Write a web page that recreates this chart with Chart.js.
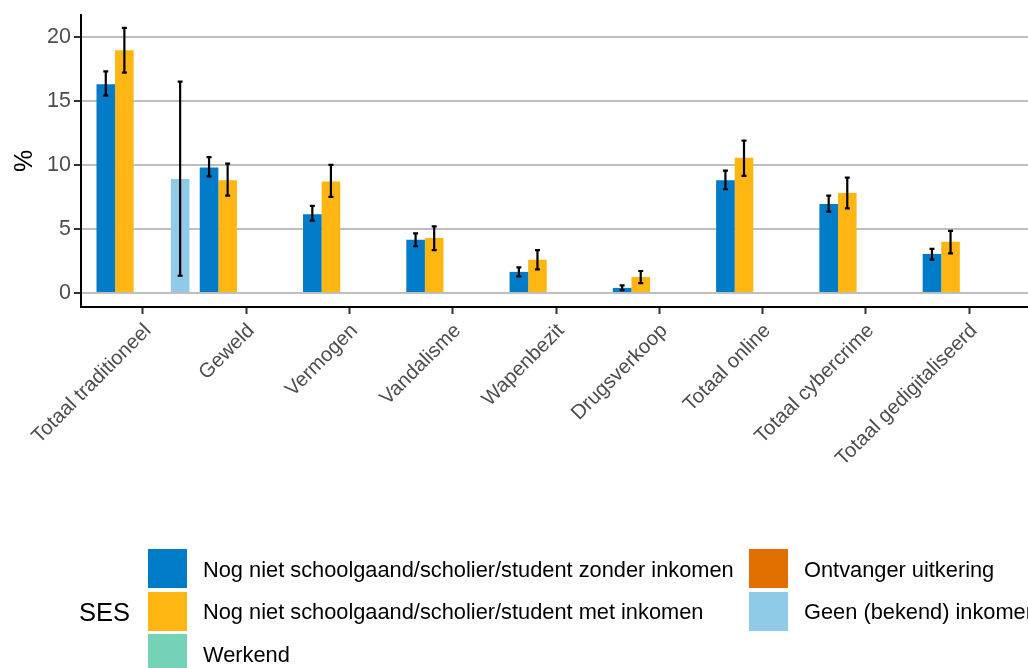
<!DOCTYPE html>
<html>
<head>
<meta charset="utf-8">
<script src="https://cdn.jsdelivr.net/npm/chart.js@4"></script>
<style>
  body { margin: 0; background: #fff; overflow: hidden; }
  #wrap { position: relative; width: 1028px; height: 668px; overflow: hidden; font-family: "Liberation Sans", Arial, sans-serif; }
  #myChart { position: absolute; left: 0; top: 0; }
  .key { position: absolute; width: 39px; height: 39px; }
  .lbl { position: absolute; font-size: 21.8px; color: #000; white-space: nowrap; line-height: 26px; }
  #sesTitle { position: absolute; left: 79px; top: 597px; font-size: 25.5px; color: #000; line-height: 30px; }
</style>
</head>
<body>
<div id="wrap">
  <canvas id="myChart" width="1028" height="668"></canvas>
  <div id="sesTitle">SES</div>
  <div id="legendBox"></div>
</div>
<script>
// categories on the x axis
const categories = [
  "Totaal traditioneel", "Geweld", "Vermogen", "Vandalisme", "Wapenbezit",
  "Drugsverkoop", "Totaal online", "Totaal cybercrime", "Totaal gedigitaliseerd"
];

const seriesNames = [
  "Nog niet schoolgaand/scholier/student zonder inkomen",
  "Nog niet schoolgaand/scholier/student met inkomen",
  "Werkend",
  "Ontvanger uitkering",
  "Geen (bekend) inkomen"
];
const seriesColors = ["#007bc7", "#ffb612", "#76d2b6", "#e17000", "#8fcae7"];

// percentages
const zonderInkomen = [16.3, 9.8, 6.15, 4.15, 1.65, 0.4, 8.8, 6.95, 3.05];
const metInkomen = [18.95, 8.8, 8.7, 4.3, 2.6, 1.25, 10.55, 7.8, 4.0];
const werkend = [null, null, null, null, null, null, null, null, null];
const uitkering = [null, null, null, null, null, null, null, null, null];
const geenInkomen = [8.9, null, null, null, null, null, null, null, null];

// confidence intervals
const zonderLow = [15.4, 9.1, 5.65, 3.65, 1.3, 0.23, 8.1, 6.35, 2.6];
const zonderHigh = [17.3, 10.6, 6.8, 4.65, 2.0, 0.6, 9.55, 7.6, 3.45];
const metLow = [17.2, 7.6, 7.5, 3.35, 1.85, 0.78, 9.15, 6.6, 3.1];
const metHigh = [20.7, 10.1, 10.0, 5.2, 3.35, 1.72, 11.9, 9.0, 4.85];
const geenLow = [1.35, null, null, null, null, null, null, null, null];
const geenHigh = [16.5, null, null, null, null, null, null, null, null];

const yTicks = [0, 5, 10, 15, 20];

const allValues = [zonderInkomen, metInkomen, werkend, uitkering, geenInkomen];
const allLow = [zonderLow, metLow, null, null, geenLow];
const allHigh = [zonderHigh, metHigh, null, null, geenHigh];

const textFont = "'Liberation Sans', Arial, sans-serif";

const errorBars = {
  id: "errorBars",
  afterDatasetsDraw(chart) {
    const ctx = chart.ctx;
    const yScale = chart.scales.y;
    ctx.save();
    ctx.strokeStyle = "#000";
    ctx.lineWidth = 2.2;
    for (let i = 0; i < allValues.length; i++) {
      if (!allLow[i]) continue;
      const meta = chart.getDatasetMeta(i);
      meta.data.forEach((bar, j) => {
        if (allLow[i][j] == null) return;
        const x = bar.x;
        const y1 = yScale.getPixelForValue(allLow[i][j]);
        const y2 = yScale.getPixelForValue(allHigh[i][j]);
        ctx.beginPath();
        ctx.moveTo(x, y1);
        ctx.lineTo(x, y2);
        ctx.moveTo(x - 2.5, y1);
        ctx.lineTo(x + 2.5, y1);
        ctx.moveTo(x - 2.5, y2);
        ctx.lineTo(x + 2.5, y2);
        ctx.stroke();
      });
    }
    ctx.restore();
  }
};

const datasets = allValues.map((vals, i) => ({
  label: seriesNames[i],
  data: vals.map((v, j) => ({ x: j + 1, y: v })),
  backgroundColor: seriesColors[i],
  borderWidth: 0,
  categoryPercentage: 0.9,
  barPercentage: 1.0
}));

new Chart("myChart", {
  type: "bar",
  data: { datasets: datasets },
  plugins: [errorBars],
  options: {
    responsive: false,
    animation: false,
    layout: { padding: { top: 15, right: 0, left: 0, bottom: 0 } },
    plugins: {
      legend: { display: false },
      tooltip: { enabled: false }
    },
    scales: {
      x: {
        type: "linear",
        offset: false,
        min: 0.4,
        max: 9.57,
        afterBuildTicks: (axis) => {
          axis.ticks = categories.map((c, i) => ({ value: i + 1 }));
        },
        afterFit: (s) => {
          s.height = 361;
          s.paddingLeft = 0;
          s.paddingRight = 0;
        },
        ticks: {
          autoSkip: false,
          maxRotation: 45,
          minRotation: 45,
          padding: 5,
          labelOffset: 5,
          color: "#4d4d4d",
          font: { family: textFont, size: 20.3 },
          callback: (v) => categories[v - 1]
        },
        grid: {
          offset: false,
          drawOnChartArea: false,
          drawTicks: true,
          tickLength: 7,
          tickColor: "#333333",
          tickWidth: 2
        },
        border: { color: "#000", width: 2 }
      },
      y: {
        min: -1.09,
        max: 21.7,
        afterBuildTicks: (axis) => {
          axis.ticks = yTicks.map((v) => ({ value: v }));
        },
        afterFit: (s) => {
          s.width = 81;
          s.paddingTop = 0;
          s.paddingBottom = 0;
        },
        ticks: {
          padding: 3,
          color: "#4d4d4d",
          font: { family: textFont, size: 21.5 }
        },
        grid: {
          color: "#bebebe",
          lineWidth: 2,
          tickLength: 7,
          tickColor: "#333333",
          tickWidth: 2
        },
        border: { color: "#000", width: 2 },
        title: {
          display: true,
          text: "%",
          color: "#000",
          font: { family: textFont, size: 25 },
          padding: { top: 10, bottom: 4 }
        }
      }
    }
  }
});

// legend laid out like the original: three rows, filled column by column
const legendBox = document.getElementById("legendBox");
const keyCols = [148, 749];
const textCols = [203, 804];
const rowTops = [549, 591.5, 634];
seriesNames.forEach((name, i) => {
  const col = Math.floor(i / 3);
  const row = i % 3;
  const key = document.createElement("div");
  key.className = "key";
  key.style.left = keyCols[col] + "px";
  key.style.top = rowTops[row] + "px";
  key.style.background = seriesColors[i];
  legendBox.appendChild(key);
  const lbl = document.createElement("div");
  lbl.className = "lbl";
  lbl.style.left = textCols[col] + "px";
  lbl.style.top = (rowTops[row] + 7.5) + "px";
  lbl.textContent = name;
  legendBox.appendChild(lbl);
});
</script>
</body>
</html>
